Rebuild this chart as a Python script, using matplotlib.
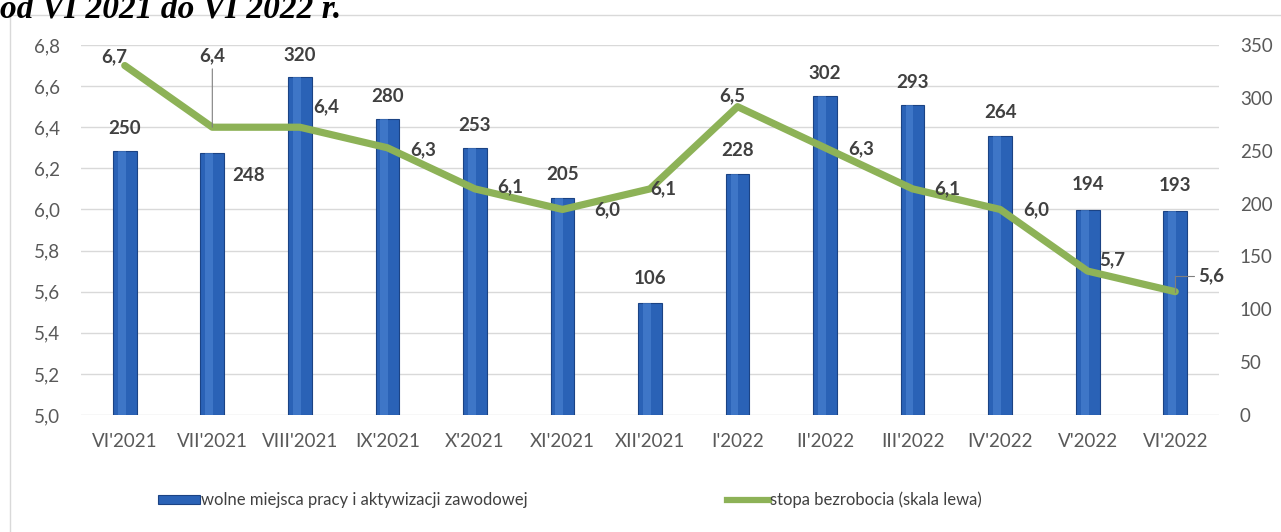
import matplotlib
matplotlib.use('Agg')
import matplotlib.pyplot as plt
from matplotlib.patches import Patch, Rectangle
from matplotlib.lines import Line2D
from matplotlib.ticker import FuncFormatter

# ---- data ----
months = ["VI'2021", "VII'2021", "VIII'2021", "IX'2021", "X'2021", "XI'2021", "XII'2021",
          "I'2022", "II'2022", "III'2022", "IV'2022", "V'2022", "VI'2022"]
vacancies = [250, 248, 320, 280, 253, 205, 106, 228, 302, 293, 264, 194, 193]
rate = [6.7, 6.4, 6.4, 6.3, 6.1, 6.0, 6.1, 6.5, 6.3, 6.1, 6.0, 5.7, 5.6]
rate_ticks = [5.0, 5.2, 5.4, 5.6, 5.8, 6.0, 6.2, 6.4, 6.6, 6.8]
vac_ticks = [0, 50, 100, 150, 200, 250, 300, 350]
title = "od VI 2021 do VI 2022 r."
legend_bar = "wolne miejsca pracy i aktywizacji zawodowej"
legend_line = "stopa bezrobocia (skala lewa)"

# ---- label placement (pixels) ----
rate_offsets = [(-11, 9), (0, 71), (26, 20), (36, -2), (35, 2), (45, 0), (13, 0),
                (-5, 11), (36, -1), (35, 0), (36, 0), (24, 11), (36, 16)]
bar_offsets = [(0, 22), (36, -23), (0, 21), (0, 22), (0, 22), (0, 24), (0, 24),
               (0, 23), (0, 22), (0, 23), (0, 23), (0, 25), (0, 25)]

W, H = 1281, 532
fig = plt.figure(figsize=(W / 100, H / 100), dpi=100)
fig.patch.set_facecolor('white')

# chart frame
fig.add_artist(Rectangle((10 / W, -0.05), 1.2, 1.05 - 15 / H, transform=fig.transFigure,
                         fill=False, edgecolor='#d9d9d9', linewidth=1))

# title (cut off at top)
fig.text(0.0, 1 - 18 / H, title, fontfamily='Liberation Serif', fontweight='bold',
         fontstyle='italic', fontsize=24, va='baseline', ha='left', color='black')

ax = fig.add_axes([81 / W, 1 - 415 / H, (1219 - 81) / W, (415 - 45) / H])
ax2 = ax.twinx()
ax.set_zorder(ax2.get_zorder() + 1)
ax.patch.set_visible(False)

x = list(range(len(months)))

# grid lines (left scale) drawn behind bars
for t in rate_ticks:
    ax2.plot([0, 1], [t, t], transform=ax.get_yaxis_transform(), color='#d9d9d9',
             linewidth=1, zorder=0)

# bars
ax2.bar(x, vacancies, width=0.27, color='#2A62B6', edgecolor='#1B4384', linewidth=0.8, zorder=2)
ax2.bar([i - 0.035 for i in x], vacancies, width=0.09, color='#4F88D6', linewidth=0,
        alpha=0.55, zorder=3)

# line
ax.plot(x, rate, color='#8DB257', linewidth=5.2, solid_joinstyle='round',
        solid_capstyle='round', zorder=5)

ax.set_xlim(-0.5, len(months) - 0.5)
ax.set_ylim(rate_ticks[0], rate_ticks[-1])
ax2.set_ylim(vac_ticks[0], vac_ticks[-1])
ax.set_yticks(rate_ticks)
ax2.set_yticks(vac_ticks)
ax.yaxis.set_major_formatter(FuncFormatter(lambda v, p: f"{v:.1f}".replace('.', ',')))
ax.set_xticks(x)
ax.set_xticklabels(months)

for a in (ax, ax2):
    for s in a.spines.values():
        s.set_visible(False)
    a.tick_params(length=0, labelsize=13.5, labelcolor='#595959')
    for lab in a.get_xticklabels() + a.get_yticklabels():
        lab.set_fontfamily('Lato')
ax.tick_params(axis='y', pad=15)
ax2.tick_params(axis='y', pad=15)
ax.tick_params(axis='x', pad=13)

# rate labels
for i, (v, off) in enumerate(zip(rate, rate_offsets)):
    arrow = None
    if i == 1:
        arrow = dict(arrowstyle='-', color='#7f7f7f', lw=0.8, shrinkA=1, shrinkB=0)
    elif i == len(rate) - 1:
        arrow = dict(arrowstyle='-', color='#7f7f7f', lw=0.8, shrinkA=1, shrinkB=0,
                     connectionstyle='angle,angleA=0,angleB=90,rad=0')
    ax.annotate(f"{v:.1f}".replace('.', ','), xy=(i, v), xytext=off, textcoords='offset pixels',
                ha='center', va='center', fontsize=13.5, fontweight='bold', color='#404040',
                fontfamily='Lato', arrowprops=arrow, zorder=6)

# bar labels
for i, (v, off) in enumerate(zip(vacancies, bar_offsets)):
    ax2.annotate(str(v), xy=(i, v), xytext=off, textcoords='offset pixels',
                 ha='center', va='center', fontsize=13.5, fontweight='bold', color='#404040',
                 fontfamily='Lato', zorder=6)

# legend
handles = [Patch(facecolor='#2A62B6', edgecolor='#1B4384', linewidth=0.8),
           Line2D([], [], color='#8DB257', linewidth=4.5)]
leg = fig.legend(handles, [legend_bar, legend_line], loc='center',
                 bbox_to_anchor=(570 / W, 1 - 500 / H), ncol=2, frameon=False,
                 handlelength=2.5, handleheight=0.4, handletextpad=0.05, columnspacing=12,
                 prop={'family': 'Lato', 'size': 12})
for t in leg.get_texts():
    t.set_color('#404040')

fig.savefig('out.png', dpi=100, facecolor='white')
